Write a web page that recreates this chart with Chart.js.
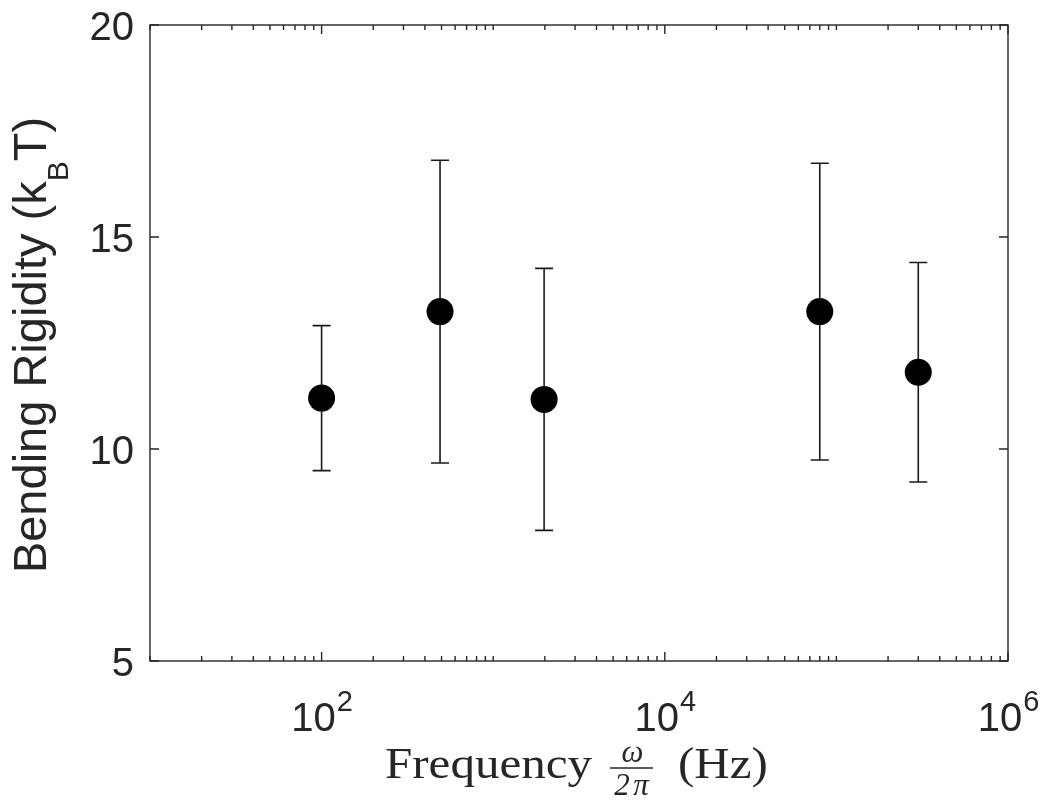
<!DOCTYPE html>
<html>
<head>
<meta charset="utf-8">
<script src="https://cdn.jsdelivr.net/npm/chart.js"></script>
<style>
  html, body { margin: 0; padding: 0; background: #fff; }
  #wrap { width: 1050px; height: 809px; }
</style>
</head>
<body>
<div id="wrap"><canvas id="grafico" width="1050" height="809"></canvas></div>
<script>
// Valores
const freqHz = [100, 490, 1980, 80000, 300000];
const rigidity = [11.20, 13.24, 11.17, 13.24, 11.81];
const errBar = [1.71, 3.57, 3.09, 3.50, 2.59];
const yTicks = [5, 10, 15, 20];
const xTickExps = [2, 4, 6];

const yLabelParts = ['Bending Rigidity (k', 'B', 'T)'];
const xLabelWord = 'Frequency';
const xLabelUnit = '(Hz)';

const ink = '#262626';
const sans = '"Liberation Sans", Arial, Helvetica, sans-serif';
const serif = '"Liberation Serif", "Times New Roman", serif';

// texto serifado um pouco mais largo (parecido com a fonte do LaTeX)
function wideText(ctx, txt, x, y, sx) {
  ctx.save();
  ctx.translate(x, y);
  ctx.scale(sx, 1);
  ctx.fillText(txt, 0, 0);
  ctx.restore();
}

const matlabAxes = {
  id: 'matlabAxes',
  beforeDatasetsDraw(chart) {
    const { ctx, scales: { x, y } } = chart;
    const cap = 9;
    ctx.save();
    ctx.strokeStyle = '#1a1a1a';
    ctx.lineWidth = 1.6;
    freqHz.forEach((f, i) => {
      const px = x.getPixelForValue(f);
      const top = y.getPixelForValue(rigidity[i] + errBar[i]);
      const bot = y.getPixelForValue(rigidity[i] - errBar[i]);
      ctx.beginPath();
      ctx.moveTo(px, top); ctx.lineTo(px, bot);
      ctx.moveTo(px - cap, top); ctx.lineTo(px + cap, top);
      ctx.moveTo(px - cap, bot); ctx.lineTo(px + cap, bot);
      ctx.stroke();
    });
    ctx.restore();
  },
  afterDraw(chart) {
    const { ctx, chartArea: a, scales: { x, y } } = chart;
    ctx.save();
    ctx.strokeStyle = ink;
    ctx.lineWidth = 1.4;
    ctx.strokeRect(a.left, a.top, a.right - a.left, a.bottom - a.top);

    // ticks (para dentro, nos quatro lados)
    ctx.beginPath();
    yTicks.forEach(v => {
      const py = y.getPixelForValue(v);
      ctx.moveTo(a.left, py); ctx.lineTo(a.left + 9, py);
      ctx.moveTo(a.right, py); ctx.lineTo(a.right - 9, py);
    });
    xTickExps.forEach(e => {
      const px = x.getPixelForValue(Math.pow(10, e));
      ctx.moveTo(px, a.bottom); ctx.lineTo(px, a.bottom - 9);
      ctx.moveTo(px, a.top); ctx.lineTo(px, a.top + 9);
    });
    for (let k = 1; k < 6; k++) {
      for (let m = 1; m < 10; m++) {
        if (m === 1 && k % 2 === 0) continue;
        const px = x.getPixelForValue(m * Math.pow(10, k));
        ctx.moveTo(px, a.bottom); ctx.lineTo(px, a.bottom - 5);
        ctx.moveTo(px, a.top); ctx.lineTo(px, a.top + 5);
      }
    }
    ctx.stroke();

    ctx.fillStyle = ink;
    ctx.textBaseline = 'alphabetic';

    // rótulos do eixo y
    ctx.font = '40px ' + sans;
    ctx.textAlign = 'right';
    yTicks.forEach(v => {
      ctx.fillText(String(v), a.left - 16, y.getPixelForValue(v) + 14.5);
    });

    // rótulos do eixo x: 10^n
    ctx.textAlign = 'left';
    xTickExps.forEach(e => {
      const px = x.getPixelForValue(Math.pow(10, e));
      ctx.font = '40px ' + sans;
      const wBase = ctx.measureText('10').width;
      ctx.font = '29px ' + sans;
      const wExp = ctx.measureText(String(e)).width;
      const start = px - (wBase + wExp) / 2;
      ctx.font = '40px ' + sans;
      ctx.fillText('10', start, 731);
      ctx.font = '29px ' + sans;
      ctx.fillText(String(e), start + wBase + 1, 711);
    });

    // título do eixo y com subscrito
    ctx.save();
    ctx.translate(46, 345);
    ctx.rotate(-Math.PI / 2);
    ctx.font = '47px ' + sans;
    const w0 = ctx.measureText(yLabelParts[0]).width;
    const w2 = ctx.measureText(yLabelParts[2]).width;
    ctx.font = '30px ' + sans;
    const w1 = ctx.measureText(yLabelParts[1]).width;
    let cx = -(w0 + w1 + w2) / 2;
    ctx.font = '47px ' + sans;
    ctx.fillText(yLabelParts[0], cx, 0);
    cx += w0;
    ctx.font = '30px ' + sans;
    ctx.fillText(yLabelParts[1], cx, 22);
    cx += w1;
    ctx.font = '47px ' + sans;
    ctx.fillText(yLabelParts[2], cx, 0);
    ctx.restore();

    // título do eixo x com fração ω / 2π
    const sx = 1.09;
    ctx.font = '45px ' + serif;
    const wWord = ctx.measureText(xLabelWord).width * sx;
    const barW = 43, gap1 = 18, gap2 = 25;
    let lx = 385;
    const base = 778;
    wideText(ctx, xLabelWord, lx, base, sx);
    lx += wWord + gap1;
    const barY = 768;
    ctx.lineWidth = 1.5;
    ctx.beginPath();
    ctx.moveTo(lx, barY); ctx.lineTo(lx + barW, barY);
    ctx.stroke();
    ctx.font = 'italic 31px ' + serif;
    ctx.textAlign = 'center';
    ctx.fillText('ω', lx + barW / 2 + 1, barY - 6);
    ctx.fillText('2', lx + 12, barY + 27);
    ctx.fillText('π', lx + 31, barY + 27);
    ctx.textAlign = 'left';
    lx += barW + gap2;
    ctx.font = '45px ' + serif;
    wideText(ctx, xLabelUnit, lx, base, sx);
    ctx.restore();
  }
};

new Chart(document.querySelector('#grafico'), {
  type: 'scatter',
  data: {
    datasets: [{
      data: freqHz.map((f, i) => ({ x: f, y: rigidity[i] })),
      pointRadius: 13.5,
      pointHoverRadius: 13.5,
      pointBorderWidth: 0,
      backgroundColor: '#000',
      borderColor: '#000'
    }]
  },
  options: {
    responsive: false,
    animation: false,
    devicePixelRatio: 1,
    layout: { padding: { left: 150, right: 42, top: 25, bottom: 148 } },
    plugins: { legend: { display: false }, tooltip: { enabled: false } },
    scales: {
      x: { type: 'logarithmic', min: 10, max: 1e6, display: false },
      y: { type: 'linear', min: 5, max: 20, display: false }
    }
  },
  plugins: [matlabAxes]
});
</script>
</body>
</html>
